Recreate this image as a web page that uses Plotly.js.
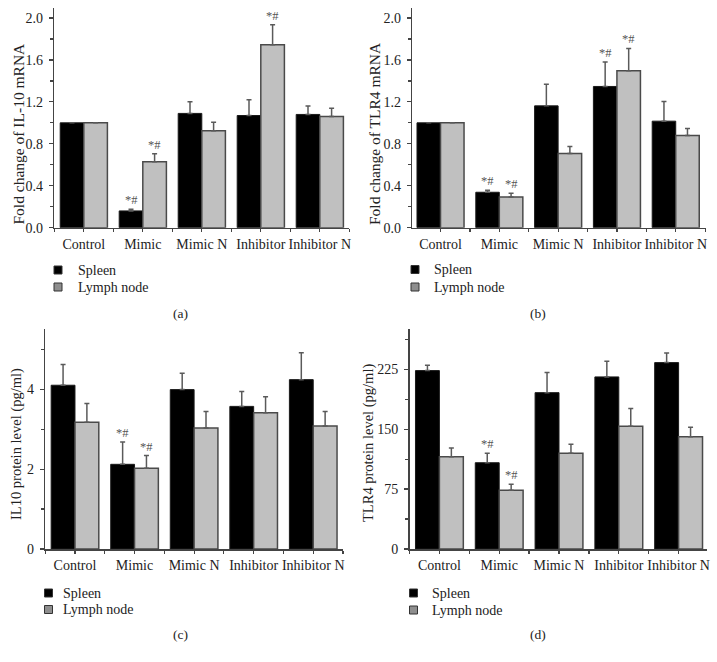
<!DOCTYPE html>
<html>
<head>
<meta charset="utf-8">
<script src="https://cdn.plot.ly/plotly-3.0.1.min.js"></script>
<style>
  html, body { margin: 0; padding: 0; background: #fff; }
  #chart { width: 717px; height: 662px; }
</style>
</head>
<body>
<div id="chart"></div>
<script>
// categories shared by all four panels
const categories = ['Control', 'Mimic', 'Mimic N', 'Inhibitor', 'Inhibitor N'];
const seriesNames = ['Spleen', 'Lymph node'];

// (a) fold change of IL-10 mRNA
const il10mRNA_spleen = [1.0, 0.16, 1.09, 1.07, 1.08];
const il10mRNA_spleenErr = [0, 0.015, 0.11, 0.15, 0.08];
const il10mRNA_lymph = [1.0, 0.63, 0.925, 1.745, 1.06];
const il10mRNA_lymphErr = [0, 0.075, 0.08, 0.19, 0.08];
const il10mRNA_sig = [[0, 1, 0, 0, 0], [0, 1, 0, 1, 0]];

// (b) fold change of TLR4 mRNA
const tlr4mRNA_spleen = [1.0, 0.338, 1.162, 1.347, 1.016];
const tlr4mRNA_spleenErr = [0, 0.02, 0.207, 0.233, 0.187];
const tlr4mRNA_lymph = [1.0, 0.293, 0.707, 1.497, 0.879];
const tlr4mRNA_lymphErr = [0, 0.035, 0.067, 0.213, 0.067];
const tlr4mRNA_sig = [[0, 1, 0, 1, 0], [0, 1, 0, 1, 0]];

// (c) IL10 protein level (pg/ml)
const il10prot_spleen = [4.1, 2.12, 3.99, 3.57, 4.24];
const il10prot_spleenErr = [0.52, 0.56, 0.41, 0.37, 0.67];
const il10prot_lymph = [3.17, 2.02, 3.03, 3.41, 3.08];
const il10prot_lymphErr = [0.47, 0.32, 0.41, 0.40, 0.36];
const il10prot_sig = [[0, 1, 0, 0, 0], [0, 1, 0, 0, 0]];

// (d) TLR4 protein level (pg/ml)
const tlr4prot_spleen = [223.3, 108, 195.7, 215.4, 233.3];
const tlr4prot_spleenErr = [6.7, 11.8, 25.3, 19.6, 12.1];
const tlr4prot_lymph = [115.6, 73.5, 119.8, 153.6, 140.6];
const tlr4prot_lymphErr = [10.9, 7.5, 11.2, 22.4, 11.7];
const tlr4prot_sig = [[0, 1, 0, 0, 0], [0, 1, 0, 0, 0]];

const W = 717, H = 662;
const px = v => v / W;
const py = v => 1 - v / H;

const FONT = 'Liberation Serif, Times New Roman, serif';
const barColors = ['#000000', '#c0c0c0'];
const barLines = ['#1a1a1a', '#4a4a4a'];
const swatchColors = ['#000000', '#8e8e8e'];
const bargap = 0.2;
const halfBar = (1 - bargap) / 4;   // centre offset of each bar in a group

const xIdx = categories.map((c, i) => i);

const panels = [
  { key: '', data: [il10mRNA_spleen, il10mRNA_lymph], err: [il10mRNA_spleenErr, il10mRNA_lymphErr], sig: il10mRNA_sig,
    xdom: [54.3, 349.3], ydom: [227.7, 7.5], xr: [-0.5, 4.5], yr: [0, 2.1], dtick: 0.4, fmt: '.1f',
    title: 'Fold change of IL-10 mRNA', tx: 17.5, ty: 134, tsize: 15.5, cap: '(a)', cx: 180, cy: 313,
    leg: { sx: 54, tx: 76, y: [270, 287] } },
  { key: '2', data: [tlr4mRNA_spleen, tlr4mRNA_lymph], err: [tlr4mRNA_spleenErr, tlr4mRNA_lymphErr], sig: tlr4mRNA_sig,
    xdom: [412.3, 706.3], ydom: [227.7, 7.5], xr: [-0.48, 4.52], yr: [0, 2.1], dtick: 0.4, fmt: '.1f',
    title: 'Fold change of TLR4 mRNA', tx: 374, ty: 134, tsize: 15.5, cap: '(b)', cx: 538, cy: 313,
    leg: { sx: 411, tx: 432, y: [269.5, 287] } },
  { key: '3', data: [il10prot_spleen, il10prot_lymph], err: [il10prot_spleenErr, il10prot_lymphErr], sig: il10prot_sig,
    xdom: [45.2, 343], ydom: [549, 329.3], xr: [-0.5, 4.5], yr: [0, 5.5], dtick: 2, fmt: 'd',
    title: 'IL10 protein level (pg/ml)', tx: 16, ty: 444, tsize: 14.5, cap: '(c)', cx: 180, cy: 634,
    leg: { sx: 44.5, tx: 61, y: [593, 609.5] } },
  { key: '4', data: [tlr4prot_spleen, tlr4prot_lymph], err: [tlr4prot_spleenErr, tlr4prot_lymphErr], sig: tlr4prot_sig,
    xdom: [409.5, 707.3], ydom: [549, 329.3], xr: [-0.5, 4.48], yr: [0, 275], dtick: 75, fmt: 'd',
    title: 'TLR4 protein level (pg/ml)', tx: 368.5, ty: 443.5, tsize: 14.5, cap: '(d)', cx: 538, cy: 634,
    leg: { sx: 409.5, tx: 429.5, y: [593, 610] } }
];

const traces = [];
const annotations = [];
const shapes = [];
const layout = {
  width: W, height: H,
  margin: { l: 0, r: 0, t: 0, b: 0 },
  paper_bgcolor: '#ffffff', plot_bgcolor: '#ffffff',
  barmode: 'group', bargap: bargap, bargroupgap: 0,
  font: { family: FONT, size: 14, color: '#222' },
  showlegend: false
};

panels.forEach(p => {
  const xa = 'x' + p.key, ya = 'y' + p.key;

  p.data.forEach((vals, s) => {
    traces.push({
      type: 'bar',
      name: seriesNames[s],
      x: xIdx, y: vals,
      xaxis: xa, yaxis: ya,
      marker: { color: barColors[s], line: { color: barLines[s], width: s ? 1.5 : 1 } },
      error_y: { type: 'data', symmetric: false, array: p.err[s], arrayminus: vals.map(() => 0),
                 color: '#5a5a5a', thickness: 1.5, width: 2.5 },
      hoverinfo: 'skip'
    });

    // significance marks
    p.sig[s].forEach((flag, i) => {
      if (!flag) return;
      annotations.push({
        xref: xa, yref: ya,
        x: i + (s ? halfBar : -halfBar), y: vals[i] + p.err[s][i],
        text: '*#', showarrow: false, yanchor: 'bottom', yshift: 0,
        font: { family: FONT, size: 12.5, color: '#555' }
      });
    });

    // legend entry (swatch + label) under the panel
    const ly = p.leg.y[s];
    shapes.push({
      type: 'rect', xref: 'paper', yref: 'paper',
      x0: px(p.leg.sx), x1: px(p.leg.sx + 8), y0: py(ly + 4), y1: py(ly - 4),
      fillcolor: swatchColors[s], line: { color: '#333', width: 1 }
    });
    annotations.push({
      xref: 'paper', yref: 'paper', x: px(p.leg.tx), y: py(ly),
      text: seriesNames[s], showarrow: false, xanchor: 'left', yanchor: 'middle',
      font: { family: FONT, size: 14, color: '#222' }
    });
  });

  const axisCommon = {
    showline: true, linecolor: '#444', linewidth: 1.5,
    ticks: 'outside', tickcolor: '#444', tickwidth: 1.2,
    showgrid: false, zeroline: false, fixedrange: true
  };

  layout['xaxis' + p.key] = Object.assign({}, axisCommon, {
    domain: [px(p.xdom[0]), px(p.xdom[1])],
    anchor: ya, range: p.xr,
    tickmode: 'array', tickvals: xIdx, ticktext: categories, ticklen: 3,
    tickfont: { family: FONT, size: 14, color: '#222' },
    minor: { tickmode: 'linear', tick0: 0.5, dtick: 1, ticks: 'outside', ticklen: 3, tickcolor: '#444' }
  });

  layout['yaxis' + p.key] = Object.assign({}, axisCommon, {
    domain: [py(p.ydom[0]), py(p.ydom[1])],
    anchor: xa, range: p.yr,
    tickmode: 'linear', tick0: 0, dtick: p.dtick, tickformat: p.fmt, ticklen: 4,
    ticklabelstandoff: 3,
    tickfont: { family: FONT, size: 14, color: '#222' },
    minor: { tickmode: 'linear', tick0: 0, dtick: p.dtick / 2, ticks: 'outside', ticklen: 3, tickcolor: '#444' }
  });

  // y-axis title
  annotations.push({
    xref: 'paper', yref: 'paper', x: px(p.tx), y: py(p.ty),
    text: p.title, textangle: -90, showarrow: false,
    xanchor: 'center', yanchor: 'middle',
    font: { family: FONT, size: p.tsize, color: '#222' }
  });

  // panel caption
  annotations.push({
    xref: 'paper', yref: 'paper', x: px(p.cx), y: py(p.cy),
    text: p.cap, showarrow: false, xanchor: 'center', yanchor: 'middle',
    font: { family: FONT, size: 13.5, color: '#222' }
  });
});

layout.annotations = annotations;
layout.shapes = shapes;

Plotly.newPlot('chart', traces, layout, { displayModeBar: false, staticPlot: true });
</script>
</body>
</html>
